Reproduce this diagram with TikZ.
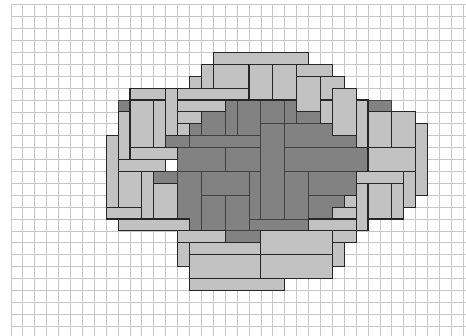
\documentclass[tikz,border=0pt]{standalone}
\begin{document}
\begin{tikzpicture}[x=11.9pt,y=-11.9pt,
  gridline/.style={draw=black!22,line width=0.8pt},
  lighttile/.style={fill=black!24,draw=black!85,line width=1.1pt},
  darktile/.style={fill=black!49,draw=black!75,line width=1pt}]
\useasboundingbox (-0.924,-0.403) rectangle (38.235,27.83);
% squared paper
\foreach \x in {0,...,38}
  \draw[gridline] (\x,0) -- (\x,27.83);
\foreach \y in {0,...,27}
  \draw[gridline] (0,\y) -- (38.235,\y);
% dark core
\foreach \a/\b/\c/\d in {9/8/10/9, 30/8/32/9, 16/9/18/11, 15/10/16/11, 18/8/19/11, 19/8/21/11,
    21/8/23/10, 23/8/24/10, 24/9/26/10, 13/11/15/12, 15/11/21/12, 14/12/18/14, 18/12/21/14,
    21/10/23/18, 23/10/29/12, 23/12/30/14, 23/14/25/18, 25/14/29/16, 25/16/28/18,
    12/14/14/15, 14/14/16/19, 16/14/20/16, 20/14/21/18, 16/16/18/19, 18/16/20/19,
    20/18/25/19, 18/19/21/20}
  \draw[darktile] (\a,\b) rectangle (\c,\d);
% light rim
\foreach \a/\b/\c/\d in {17/4/25/5, 16/5/17/7, 15/6/16/7, 17/5/20/7, 20/5/22/8, 22/5/24/8,
    24/5/27/6, 24/6/26/9, 26/6/28/8, 26/8/27/10, 27/7/29/11, 29/8/30/12, 30/9/32/12,
    32/9/34/12, 34/10/35/16, 30/12/34/14, 29/14/33/15, 33/14/34/17, 32/15/33/18,
    30/15/32/18, 29/15/30/19, 28/16/29/18, 27/17/29/18, 25/18/29/19,
    27/19/29/20, 27/20/28/22, 21/19/27/21, 21/21/27/23, 15/20/21/21, 15/21/21/23,
    15/23/23/24, 14/20/15/22, 14/19/18/20, 9/18/15/19, 8/17/11/18, 11/14/12/18,
    9/14/11/17, 12/15/14/18, 8/11/9/17, 9/13/13/14, 10/12/14/13, 9/9/10/13,
    10/8/12/12, 12/8/13/12, 13/7/14/11, 10/7/13/8, 14/7/20/8, 14/8/18/9,
    14/9/16/10, 14/10/15/11}
  \draw[lighttile] (\a,\b) rectangle (\c,\d);
\end{tikzpicture}
\end{document}
